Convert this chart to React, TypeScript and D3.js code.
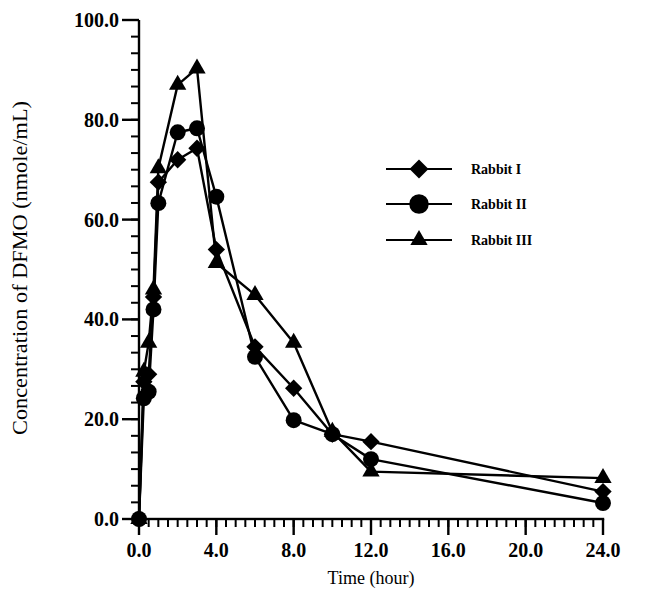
import React, { useEffect, useRef } from 'react';
import * as d3 from 'd3';

const times = [0, 0.25, 0.5, 0.75, 1, 2, 3, 4, 6, 8, 10, 12, 24];
const rabbitI = [0, 27.5, 29, 44.5, 67.5, 72, 74.3, 54, 34.5, 26.2, 17, 15.5, 5.5];
const rabbitII = [0, 24.2, 25.5, 42, 63.3, 77.5, 78.3, 64.6, 32.5, 19.8, 17, 12, 3.2];
const rabbitIII = [0, 29.5, 35.3, 46, 70.3, 87, 90.3, 51.3, 44.9, 35.3, 17.5, 9.5, 8.2];
const seriesNames = ['Rabbit I', 'Rabbit II', 'Rabbit III'];
const xTicks = [0, 4, 8, 12, 16, 20, 24];
const yTicks = [0, 20, 40, 60, 80, 100];

const FONT = '"Liberation Serif", "Times New Roman", serif';

// diamond drawn as a square turned 45 degrees
const diamond = {
  draw(ctx: any, size: number) {
    const r = Math.sqrt(size / 2);
    ctx.moveTo(0, -r);
    ctx.lineTo(r, 0);
    ctx.lineTo(0, r);
    ctx.lineTo(-r, 0);
    ctx.closePath();
  },
};

const App = () => {
  const ref = useRef<SVGSVGElement | null>(null);

  useEffect(() => {
    const svg = d3.select(ref.current);
    svg.selectAll('*').remove();

    const x = d3.scaleLinear().domain([0, 24]).range([139, 603]);
    const y = d3.scaleLinear().domain([0, 100]).range([519, 20]);

    const g = svg.append('g');

    // minor ticks as small filled rects
    const xMinor = d3.range(0, 48.5, 1).map((k) => k / 2);
    const yMinor = d3.range(0, 30.5, 1).map((k) => (k * 20) / 6);

    g.selectAll('rect.xminor')
      .data(xMinor)
      .enter()
      .append('rect')
      .attr('class', 'xminor')
      .attr('x', (d) => x(d) - 1)
      .attr('y', 519)
      .attr('width', 2)
      .attr('height', 8)
      .attr('fill', '#000');

    g.selectAll('rect.yminor')
      .data(yMinor)
      .enter()
      .append('rect')
      .attr('class', 'yminor')
      .attr('x', 131)
      .attr('y', (d) => y(d) - 1)
      .attr('width', 8)
      .attr('height', 2)
      .attr('fill', '#000');

    // major ticks as rects
    g.selectAll('rect.xmajor')
      .data(xTicks)
      .enter()
      .append('rect')
      .attr('class', 'xmajor')
      .attr('x', (d) => x(d) - 1.2)
      .attr('y', 519)
      .attr('width', 2.4)
      .attr('height', 16)
      .attr('fill', '#000');

    g.selectAll('rect.ymajor')
      .data(yTicks)
      .enter()
      .append('rect')
      .attr('class', 'ymajor')
      .attr('x', 122)
      .attr('y', (d) => y(d) - 1.2)
      .attr('width', 17)
      .attr('height', 2.4)
      .attr('fill', '#000');

    // axis lines
    g.append('rect')
      .attr('x', x(0) - 1.2)
      .attr('y', y(100))
      .attr('width', 2.4)
      .attr('height', y(0) - y(100) + 1.2)
      .attr('fill', '#000');
    g.append('rect')
      .attr('x', x(0) - 1.2)
      .attr('y', y(0) - 1.2)
      .attr('width', x(24) - x(0) + 2.4)
      .attr('height', 2.4)
      .attr('fill', '#000');

    // tick labels
    g.selectAll('text.xlab')
      .data(xTicks)
      .enter()
      .append('text')
      .attr('class', 'xlab')
      .attr('x', (d) => x(d))
      .attr('y', 557)
      .attr('text-anchor', 'middle')
      .attr('font-family', FONT)
      .attr('font-size', 20)
      .attr('font-weight', 'bold')
      .text((d) => d3.format('.1f')(d));

    g.selectAll('text.ylab')
      .data(yTicks)
      .enter()
      .append('text')
      .attr('class', 'ylab')
      .attr('x', 119)
      .attr('y', (d) => y(d) + 7)
      .attr('text-anchor', 'end')
      .attr('font-family', FONT)
      .attr('font-size', 20)
      .attr('font-weight', 'bold')
      .text((d) => d3.format('.1f')(d));

    // axis titles
    svg
      .append('text')
      .attr('x', 371)
      .attr('y', 584)
      .attr('text-anchor', 'middle')
      .attr('font-family', FONT)
      .attr('font-size', 18)
      .text('Time (hour)');

    svg
      .append('text')
      .attr('transform', 'translate(27,268) rotate(-90)')
      .attr('text-anchor', 'middle')
      .attr('font-family', FONT)
      .attr('font-size', 22)
      .attr('textLength', 334)
      .attr('lengthAdjust', 'spacingAndGlyphs')
      .text('Concentration of DFMO (nmole/mL)');

    const symbols = [diamond, d3.symbolCircle, d3.symbolTriangle];
    const sizes = [150, 200, 130];
    const allSeries = [rabbitI, rabbitII, rabbitIII];

    const line = d3
      .line<number>()
      .x((_, i) => x(times[i]))
      .y((d) => y(d));

    allSeries.forEach((vals, s) => {
      g.append('path')
        .attr('d', line(vals))
        .attr('fill', 'none')
        .attr('stroke', '#000')
        .attr('stroke-width', 2.4)
        .attr('stroke-linejoin', 'round');

      const sym = d3.symbol().type(symbols[s] as any).size(sizes[s]);
      g.selectAll(null)
        .data(vals)
        .enter()
        .append('path')
        .attr('d', sym)
        .attr('transform', (d, i) => `translate(${x(times[i])},${y(d)})`)
        .attr('fill', '#000');
    });

    // legend
    const legendY = [169, 204, 240];
    const legendSizes = [180, 300, 130];
    seriesNames.forEach((name, s) => {
      const lg = svg.append('g').attr('transform', `translate(0,${legendY[s]})`);
      lg.append('line')
        .attr('x1', 386)
        .attr('x2', 452)
        .attr('y1', 0)
        .attr('y2', 0)
        .attr('stroke', '#000')
        .attr('stroke-width', 2.2);
      lg.append('path')
        .attr('d', d3.symbol().type(symbols[s] as any).size(legendSizes[s])())
        .attr('transform', 'translate(419,0)')
        .attr('fill', '#000');
      lg.append('text')
        .attr('x', 471)
        .attr('y', 5)
        .attr('font-family', FONT)
        .attr('font-size', 14)
        .attr('font-weight', 'bold')
        .text(name);
    });
  }, []);

  return (
    <svg
      ref={ref}
      width={663}
      height={600}
      style={{ position: 'absolute', left: 0, top: 0, background: '#fff' }}
    />
  );
};

export default App;
